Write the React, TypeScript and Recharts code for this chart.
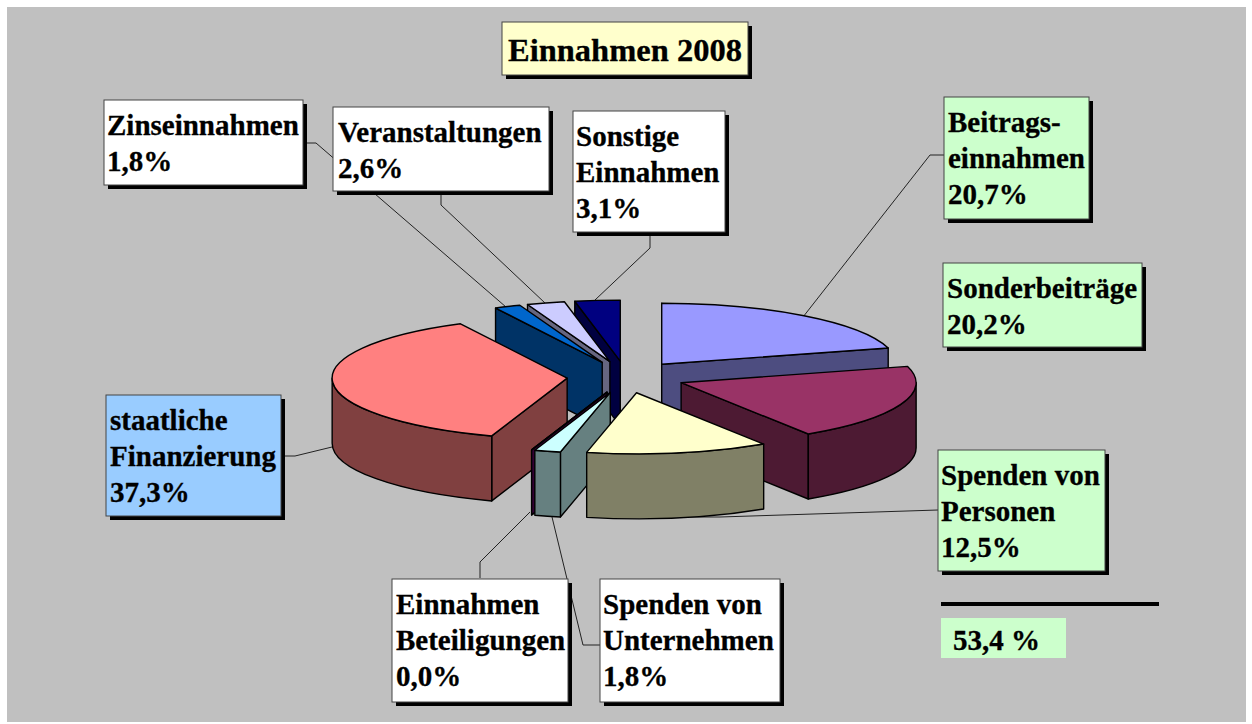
import { Pie, PieChart } from "recharts"

const categories = [
  "Beitragseinnahmen",
  "Sonderbeiträge",
  "Spenden von Personen",
  "Spenden von Unternehmen",
  "Einnahmen Beteiligungen",
  "staatliche Finanzierung",
  "Zinseinnahmen",
  "Veranstaltungen",
  "Sonstige Einnahmen",
]
const shares = [20.7, 20.2, 12.5, 1.8, 0.0, 37.3, 1.8, 2.6, 3.1]
const topColors = ["#9999ff", "#993366", "#ffffcc", "#ccffff", "#660066", "#ff8080", "#0066cc", "#ccccff", "#000080"]
const sideColors = ["#4d4d80", "#4d1a33", "#808066", "#668080", "#330033", "#804040", "#003366", "#666680", "#000040"]
const labelLines = [
  ["Beitrags-", "einnahmen"],
  ["Sonderbeiträge"],
  ["Spenden von", "Personen"],
  ["Spenden von", "Unternehmen"],
  ["Einnahmen", "Beteiligungen"],
  ["staatliche", "Finanzierung"],
  ["Zinseinnahmen"],
  ["Veranstaltungen"],
  ["Sonstige", "Einnahmen"],
]
// back to front, the wedges overlap each other
const drawOrder = [8, 7, 6, 5, 4, 3, 0, 1, 2]
const subtotal = "53,4 %"

const data = categories.map((name, i) => ({ name, value: shares[i], side: sideColors[i], fill: topColors[i] }))

const FONT = "'Liberation Serif', 'Times New Roman', serif"
const SQUASH = 61 / 235
const EXPLODE_X = 59
const EXPLODE_Y = 16
const DEPTH = 65

const GREEN = "#ccffcc"
const BLUE = "#99ccff"
const boxes = [
  { x: 944, y: 97, w: 145, h: 122, pad: 4, fill: GREEN },
  { x: 943, y: 263, w: 199, h: 84, pad: 4, fill: GREEN },
  { x: 938, y: 450, w: 167, h: 121, pad: 3, fill: GREEN },
  { x: 600, y: 579, w: 180, h: 123, pad: 3, fill: "#fff" },
  { x: 392, y: 579, w: 176, h: 123, pad: 4, fill: "#fff" },
  { x: 106, y: 395, w: 175, h: 121, pad: 4, fill: BLUE },
  { x: 104, y: 100, w: 199, h: 85, pad: 3, fill: "#fff" },
  { x: 333, y: 107, w: 216, h: 84, pad: 5, fill: "#fff" },
  { x: 573, y: 111, w: 152, h: 121, pad: 3, fill: "#fff" },
]
const leaders = [
  "944,155 930,155 803,317",
  "",
  "938,510 720,517 588,517",
  "600,645 583,645 552,517",
  "480,578 480,562 530,512",
  "281,456 295,456 332,447",
  "303,143 316,143 506,307",
  "441,191 441,205 545,303",
  "650,232 650,248 595,300",
]

const rad = (deg: number) => (deg * Math.PI) / 180

function Wedge(props: any) {
  const { cx, cy, outerRadius, startAngle, endAngle, payload } = props
  const a = outerRadius
  const b = outerRadius * SQUASH
  const t0 = 90 - startAngle
  const t1 = 90 - endAngle
  const mid = (t0 + t1) / 2
  const ax = cx + EXPLODE_X * Math.sin(rad(mid))
  const ay = cy - EXPLODE_Y * Math.cos(rad(mid))
  const rim = (t: number) => [ax + a * Math.sin(rad(t)), ay - b * Math.cos(rad(t))]
  const line = { stroke: "#000", strokeWidth: 1.4, strokeLinejoin: "round" as const }

  const [x0, y0] = rim(t0)
  const [x1, y1] = rim(t1)
  const [mx, my] = rim(mid)

  // a cut face only shows when the wedge lies behind it
  const faces = (x: number, y: number) => {
    const dx = x - ax
    const dy = y - ay
    return (dx * (my - ay) - dy * (mx - ax)) * dx <= 0
  }
  const cut = (x: number, y: number) =>
    `M${ax},${ay} L${x},${y} L${x},${y + DEPTH} L${ax},${ay + DEPTH} Z`

  const from = Math.max(t0, 90)
  const to = Math.min(t1, 270)
  let outer = null
  if (to > from) {
    const [fx, fy] = rim(from)
    const [tx, ty] = rim(to)
    outer = `M${fx},${fy} A${a},${b} 0 0 1 ${tx},${ty} L${tx},${ty + DEPTH} A${a},${b} 0 0 0 ${fx},${fy + DEPTH} Z`
  }
  const large = t1 - t0 > 180 ? 1 : 0

  return (
    <g>
      {faces(x0, y0) && <path d={cut(x0, y0)} fill={payload.side} {...line} />}
      {faces(x1, y1) && <path d={cut(x1, y1)} fill={payload.side} {...line} />}
      {outer && <path d={outer} fill={payload.side} {...line} />}
      <path d={`M${ax},${ay} L${x0},${y0} A${a},${b} 0 ${large} 1 ${x1},${y1} Z`} fill={payload.fill} {...line} />
    </g>
  )
}

function Box({ x, y, w, h, fill }: any) {
  return (
    <g>
      <rect x={x + 4} y={y + 4} width={w} height={h} fill="#000" />
      <rect x={x} y={y} width={w} height={h} fill={fill} stroke="#444" strokeWidth={1} />
    </g>
  )
}

const textStyle = { fontFamily: FONT, fontWeight: 700, fontSize: 29, fill: "#000", stroke: "#000", strokeWidth: 0.3 }

export default function App() {
  return (
    <div style={{ position: "absolute", left: 0, top: 0, width: 1252, height: 724, background: "#fff" }}>
      <PieChart width={1252} height={724} margin={{ top: 0, right: 0, bottom: 0, left: 0 }}>
        <rect x={7} y={7} width={1239} height={715} fill="#c0c0c0" />
        {leaders.map((points, i) =>
          points ? <polyline key={i} points={points} fill="none" stroke="#222" strokeWidth={1} /> : null
        )}
        {drawOrder.map((idx) => (
          <Pie
            key={idx}
            data={data}
            dataKey="value"
            nameKey="name"
            cx={626}
            cy={377}
            outerRadius={235}
            startAngle={90}
            endAngle={-270}
            stroke="none"
            labelLine={false}
            isAnimationActive={false}
            shape={(p: any) => (p.payload.name === categories[idx] ? <Wedge {...p} /> : <g />)}
          />
        ))}
        {boxes.map((box, i) => (
          <g key={i}>
            <Box {...box} />
            <text {...textStyle}>
              {[...labelLines[i], shares[i].toFixed(1).replace(".", ",") + "%"].map((t, n) => (
                <tspan key={n} x={box.x + box.pad} y={box.y + 35 + n * 36}>
                  {t}
                </tspan>
              ))}
            </text>
          </g>
        ))}
        <Box x={502} y={22} w={246} h={53} fill="#ffffcc" />
        <text x={508} y={61} {...textStyle} fontSize={32.5}>
          Einnahmen 2008
        </text>
        <rect x={941} y={602} width={218} height={4} fill="#000" />
        <rect x={941} y={618} width={125} height={40} fill={GREEN} />
        <text x={953} y={650} {...textStyle}>
          {subtotal}
        </text>
      </PieChart>
    </div>
  )
}
